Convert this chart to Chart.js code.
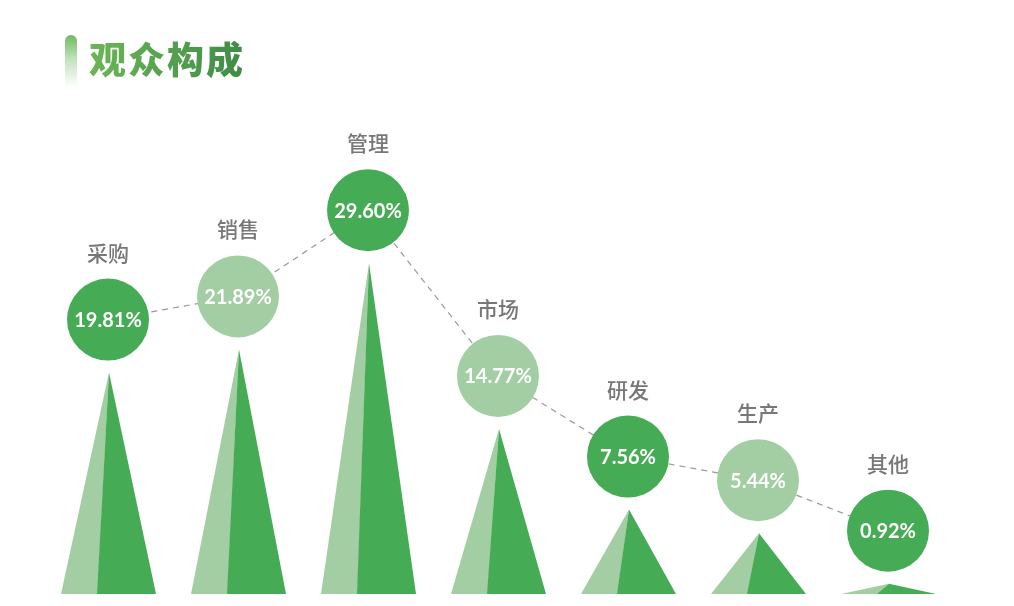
<!DOCTYPE html>
<html>
<head>
<meta charset="utf-8">
<script src="https://cdn.jsdelivr.net/npm/chart.js@4/dist/chart.umd.min.js"></script>
<style>
  html, body { margin: 0; padding: 0; background: #ffffff; }
  #wrap { position: relative; width: 1014px; height: 606px; overflow: hidden; }
  #c { position: absolute; left: 0; top: 0; }
  #bar { position: absolute; left: 65px; top: 35px; width: 12px; height: 52px; border-radius: 6px 6px 0 0;
         background: linear-gradient(to bottom, #6fba5c 0%, rgba(140,200,130,0.55) 45%, rgba(255,255,255,0) 100%); }
  #title { position: absolute; left: 89px; top: 33px; font-family: "Noto Sans CJK SC", sans-serif; font-weight: 900;
           font-size: 37px; line-height: 50px; letter-spacing: 2px;
           background: linear-gradient(to right, #6cb656, #3f8b48); -webkit-background-clip: text; background-clip: text; color: transparent; }
</style>
</head>
<body>
<div id="wrap">
  <canvas id="c" width="1014" height="606"></canvas>
  <div id="bar"></div>
  <div id="title">观众构成</div>
</div>
<script>
const categories = ["采购", "销售", "管理", "市场", "研发", "生产", "其他"];
const values = [19.81, 21.89, 29.60, 14.77, 7.56, 5.44, 0.92];
const valueLabels = ["19.81%", "21.89%", "29.60%", "14.77%", "7.56%", "5.44%", "0.92%"];

const DARK = "#46ab55";
const LIGHT = "#a3cea3";
const circleColors = values.map((v, i) => i % 2 === 0 ? DARK : LIGHT);

const mountainPlugin = {
  id: "mountains",
  beforeDatasetsDraw(chart) {
    const ctx = chart.ctx;
    const xs = chart.scales.x, ys = chart.scales.y;
    const base = ys.getPixelForValue(0) + 53;
    ctx.save();
    values.forEach((v, i) => {
      const cx = xs.getPixelForValue(i) + 1;
      const apex = ys.getPixelForValue(v) + 53;
      const left = cx - 48, right = cx + 47, split = cx - 12;
      ctx.fillStyle = LIGHT;
      ctx.beginPath();
      ctx.moveTo(cx, apex); ctx.lineTo(left, base); ctx.lineTo(split + 0.5, base); ctx.closePath();
      ctx.fill();
      ctx.fillStyle = DARK;
      ctx.beginPath();
      ctx.moveTo(cx, apex); ctx.lineTo(split, base); ctx.lineTo(right, base); ctx.closePath();
      ctx.fill();
    });
    ctx.restore();
  },
  afterDatasetsDraw(chart) {
    const ctx = chart.ctx;
    const xs = chart.scales.x, ys = chart.scales.y;
    ctx.save();
    ctx.textAlign = "center";
    ctx.textBaseline = "middle";
    values.forEach((v, i) => {
      const cx = xs.getPixelForValue(i);
      const cy = ys.getPixelForValue(v);
      ctx.fillStyle = "#ffffff";
      ctx.font = "bold 20px Lato, 'Open Sans', sans-serif";
      ctx.fillText(valueLabels[i], cx, cy + 1);
      ctx.fillStyle = "#777777";
      ctx.font = "500 21px 'Noto Sans CJK SC', sans-serif";
      ctx.fillText(categories[i], cx, cy - 67);
    });
    ctx.restore();
  }
};

new Chart(document.getElementById("c"), {
  type: "line",
  data: {
    labels: categories,
    datasets: [{
      data: values,
      borderColor: "#9a9a9a",
      borderWidth: 1.2,
      borderDash: [6, 5],
      tension: 0,
      fill: false,
      clip: false,
      pointRadius: 41,
      pointHoverRadius: 41,
      pointBorderWidth: 0,
      pointBackgroundColor: circleColors,
      pointBorderColor: circleColors
    }]
  },
  options: {
    responsive: false,
    animation: false,
    events: [],
    layout: { padding: { left: 108, right: 126, top: 94, bottom: 65 } },
    plugins: { legend: { display: false }, tooltip: { enabled: false } },
    scales: {
      x: { type: "category", display: false, offset: false },
      y: { type: "linear", display: false, min: 0, max: 40 }
    }
  },
  plugins: [mountainPlugin]
});
</script>
</body>
</html>
